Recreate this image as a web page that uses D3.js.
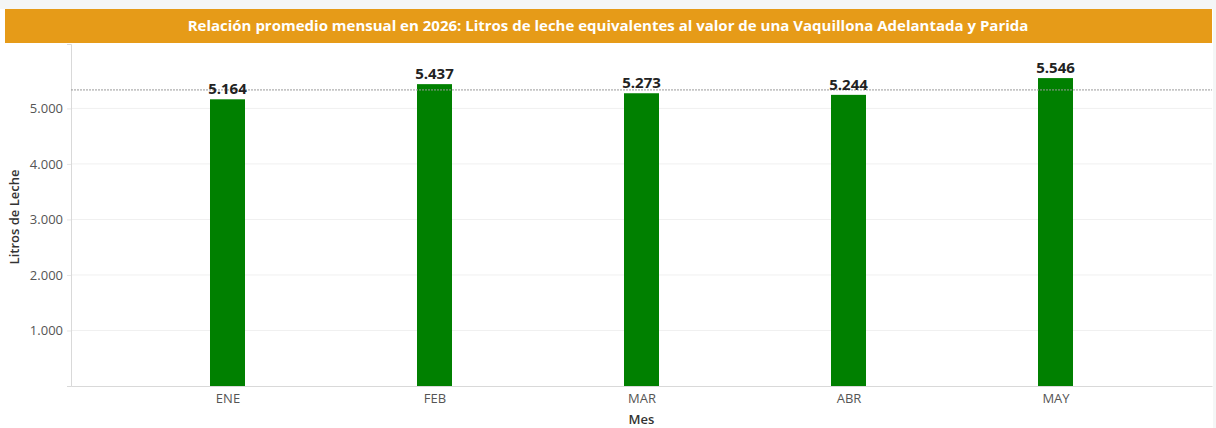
<!DOCTYPE html>
<html>
<head>
<meta charset="utf-8">
<script src="https://cdn.jsdelivr.net/npm/d3@7"></script>
<style>
  body { margin: 0; background: #fff; font-family: "Open Sans", sans-serif; }
</style>
</head>
<body>
<svg id="chart" width="1216" height="428"></svg>
<script>
const titleText = "Relación promedio mensual en 2026: Litros de leche equivalentes al valor de una Vaquillona Adelantada y Parida";
const months = ["ENE", "FEB", "MAR", "ABR", "MAY"];
const litros = [5164, 5437, 5273, 5244, 5546];
const yTicks = [1000, 2000, 3000, 4000, 5000];

const svg = d3.select("#chart");
const width = 1216, height = 428;
const margin = { top: 44, right: 4, bottom: 42, left: 71 };
const plotW = width - margin.left - margin.right;
const plotH = height - margin.top - margin.bottom;

const fmt = d => d3.format(",")(d).replace(",", ".");

// light frame behind everything
svg.append("rect").attr("width", width).attr("height", height).attr("fill", "#f4f6f6");
svg.append("rect").attr("x", 0).attr("y", 9).attr("width", 1213).attr("height", height - 9).attr("fill", "#fff");

// title bar
svg.append("rect")
  .attr("x", 5).attr("y", 9)
  .attr("width", 1207).attr("height", 34)
  .attr("fill", "#e69b18");
svg.append("text")
  .attr("x", 608).attr("y", 31)
  .attr("text-anchor", "middle")
  .attr("fill", "#fff")
  .attr("font-size", "15px")
  .attr("font-weight", "bold")
  .text(titleText);

const chart = svg.append("g").attr("transform", `translate(${margin.left},${margin.top})`);

const x = d3.scalePoint().domain(months).range([0, plotW]).padding(0.756);
const y = d3.scaleLinear().domain([0, 6160]).range([plotH, 0]);
const barW = 35;

// gridlines
chart.selectAll(".grid")
  .data(yTicks)
  .enter().append("line")
  .attr("x1", 0).attr("x2", plotW)
  .attr("y1", d => y(d)).attr("y2", d => y(d))
  .attr("stroke", "#f0f0f0");

// y axis
const yAxis = chart.append("g")
  .call(d3.axisLeft(y).tickValues(yTicks).tickFormat(fmt).tickSize(4));
yAxis.select(".domain").attr("stroke", "#d9d9d9");
yAxis.selectAll(".tick line").attr("stroke", "#e6e6e6");
yAxis.selectAll(".tick text")
  .attr("fill", "#555").attr("font-size", "13px").attr("font-family", "Open Sans")
  .attr("x", -8);

// x axis
const xAxis = chart.append("g")
  .attr("transform", `translate(0,${plotH})`)
  .call(d3.axisBottom(x).tickSize(0).tickPadding(8));
xAxis.select(".domain").attr("stroke", "#d9d9d9");
xAxis.selectAll(".tick text")
  .attr("fill", "#555").attr("font-size", "13px").attr("font-family", "Open Sans");

// bars
chart.selectAll(".bar")
  .data(litros)
  .enter().append("rect")
  .attr("class", "bar")
  .attr("x", (d, i) => x(months[i]) - barW / 2)
  .attr("y", d => y(d))
  .attr("width", barW)
  .attr("height", d => plotH - y(d))
  .attr("fill", "#008000");

// average reference line
const avg = d3.mean(litros);
chart.append("line")
  .attr("x1", 0).attr("x2", plotW)
  .attr("y1", y(avg)).attr("y2", y(avg))
  .attr("stroke", "#999")
  .attr("stroke-dasharray", "2,1");

// value labels
chart.selectAll(".label")
  .data(litros)
  .enter().append("text")
  .attr("x", (d, i) => x(months[i]))
  .attr("y", d => y(d) - 5)
  .attr("text-anchor", "middle")
  .attr("font-size", "15px")
  .attr("font-weight", "bold")
  .attr("fill", "#222")
  .text(fmt);

// axis titles
svg.append("text")
  .attr("transform", `translate(19,${margin.top + plotH / 2 + 2}) rotate(-90)`)
  .attr("text-anchor", "middle")
  .attr("font-size", "13px")
  .attr("font-weight", "600")
  .attr("fill", "#333")
  .text("Litros de Leche");
svg.append("text")
  .attr("x", margin.left + plotW / 2).attr("y", 424)
  .attr("text-anchor", "middle")
  .attr("font-size", "13px")
  .attr("font-weight", "600")
  .attr("fill", "#333")
  .text("Mes");
</script>
</body>
</html>
